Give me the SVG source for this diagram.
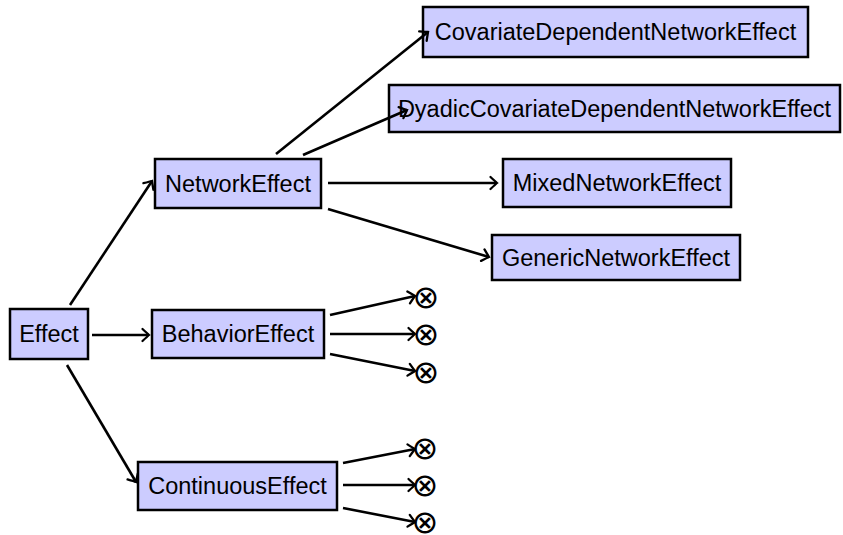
<svg xmlns="http://www.w3.org/2000/svg" width="843" height="535" viewBox="0 0 843 535">
<style>
.box{fill:#ccccff;stroke:#000;stroke-width:2.5}
.lbl{font-family:"Liberation Sans",Arial,sans-serif;font-size:23.5px;fill:#000;text-anchor:middle}
.sym{font-family:"DejaVu Sans",sans-serif;font-size:32px;fill:#000;text-anchor:middle}
.edge{fill:none;stroke:#000;stroke-width:2.6;marker-end:url(#arr)}
</style>
<defs>
<marker id="arr" markerUnits="userSpaceOnUse" viewBox="-10 -7 12 14" refX="0" refY="0" markerWidth="12" markerHeight="14" orient="auto" overflow="visible">
<path d="M-6.5,-6 Q-1.5,-1.3 0,0 Q-1.5,1.3 -6.5,6" fill="none" stroke="#000" stroke-width="2.3" stroke-linecap="round"/>
</marker>
</defs>
<g id="n-effect"><rect class="box" x="10" y="309" width="78" height="50"/><text class="lbl" x="49" y="342">Effect</text></g>
<g id="n-network"><rect class="box" x="155" y="159" width="166" height="49"/><text class="lbl" x="238" y="192">NetworkEffect</text></g>
<g id="n-behavior"><rect class="box" x="152" y="310" width="172" height="48"/><text class="lbl" x="238" y="342">BehaviorEffect</text></g>
<g id="n-continuous"><rect class="box" x="138" y="462" width="199" height="48"/><text class="lbl" x="237.5" y="494">ContinuousEffect</text></g>
<g id="n-covariate"><rect class="box" x="423" y="7" width="385" height="50"/><text class="lbl" x="615.5" y="40">CovariateDependentNetworkEffect</text></g>
<g id="n-dyadic"><rect class="box" x="389" y="85" width="451" height="47"/><text class="lbl" x="614.5" y="117">DyadicCovariateDependentNetworkEffect</text></g>
<g id="n-mixed"><rect class="box" x="503" y="159" width="228" height="48"/><text class="lbl" x="617" y="191">MixedNetworkEffect</text></g>
<g id="n-generic"><rect class="box" x="492" y="235" width="248" height="45"/><text class="lbl" x="616" y="266">GenericNetworkEffect</text></g>
<g id="connectors">
<line class="edge" x1="70" y1="305" x2="152" y2="181"/>
<line class="edge" x1="92" y1="335" x2="149" y2="335"/>
<line class="edge" x1="67" y1="365" x2="136" y2="482"/>
<line class="edge" x1="276" y1="154" x2="428" y2="32"/>
<line class="edge" x1="303" y1="155" x2="407" y2="110"/>
<line class="edge" x1="328" y1="183" x2="497" y2="183"/>
<line class="edge" x1="328" y1="209" x2="489" y2="257"/>
<line class="edge" x1="330" y1="315" x2="415" y2="296"/>
<line class="edge" x1="330" y1="334" x2="415" y2="334"/>
<line class="edge" x1="330" y1="354" x2="415" y2="371"/>
<line class="edge" x1="343" y1="463" x2="415" y2="449"/>
<line class="edge" x1="343" y1="485" x2="415" y2="485"/>
<line class="edge" x1="343" y1="508" x2="415" y2="522"/>
</g>
<g id="sinks">
<text class="sym" x="426" y="307.5">⊗</text>
<text class="sym" x="426" y="344.5">⊗</text>
<text class="sym" x="426" y="382.5">⊗</text>
<text class="sym" x="425" y="458.5">⊗</text>
<text class="sym" x="425" y="495.5">⊗</text>
<text class="sym" x="425" y="532.5">⊗</text>
</g>
</svg>
